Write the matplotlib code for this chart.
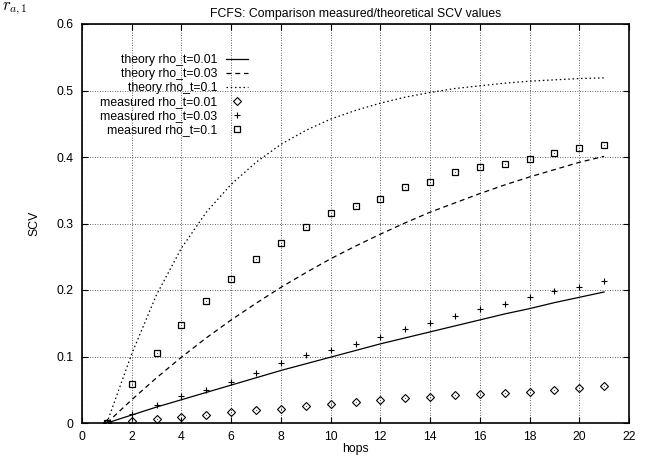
import matplotlib
matplotlib.use("Agg")
import matplotlib.pyplot as plt

# hop counts and SCV values
hops = list(range(1, 22))

theory_001 = [0.0, 0.012, 0.024, 0.035, 0.046, 0.057, 0.068, 0.079, 0.089, 0.099,
              0.109, 0.119, 0.128, 0.137, 0.146, 0.155, 0.164, 0.172, 0.181, 0.189, 0.197]
theory_003 = [0.0, 0.035, 0.068, 0.099, 0.128, 0.155, 0.180, 0.204, 0.226, 0.247,
              0.266, 0.284, 0.301, 0.317, 0.331, 0.345, 0.358, 0.370, 0.381, 0.392, 0.401]
theory_01 = [0.0, 0.104, 0.193, 0.263, 0.317, 0.359, 0.392, 0.419, 0.440, 0.457,
             0.470, 0.481, 0.490, 0.497, 0.503, 0.507, 0.511, 0.514, 0.516, 0.518, 0.519]

measured_001 = [0.0, 0.003, 0.006, 0.009, 0.012, 0.016, 0.019, 0.021, 0.025, 0.029,
                0.031, 0.034, 0.037, 0.039, 0.042, 0.043, 0.045, 0.047, 0.050, 0.053, 0.056]
measured_003 = [0.0, 0.013, 0.027, 0.040, 0.050, 0.062, 0.075, 0.090, 0.102, 0.110,
                0.119, 0.130, 0.141, 0.151, 0.161, 0.171, 0.179, 0.189, 0.198, 0.205, 0.214]
measured_01 = [0.0, 0.058, 0.106, 0.147, 0.183, 0.216, 0.246, 0.271, 0.295, 0.316,
               0.327, 0.337, 0.355, 0.363, 0.377, 0.385, 0.390, 0.397, 0.406, 0.413, 0.418]

labels = ["theory rho_t=0.01", "theory rho_t=0.03", "theory rho_t=0.1",
          "measured rho_t=0.01", "measured rho_t=0.03", "measured rho_t=0.1"]

x_ticks = list(range(0, 23, 2))
y_ticks = [0.0, 0.1, 0.2, 0.3, 0.4, 0.5, 0.6]
y_tick_labels = ["0", "0.1", "0.2", "0.3", "0.4", "0.5", "0.6"]

plt.rcParams["font.family"] = ["Liberation Sans", "DejaVu Sans"]
plt.rcParams["mathtext.fontset"] = "cm"
FS = 8.8

fig = plt.figure(figsize=(6.56, 4.58), dpi=100)
ax = fig.add_axes([82 / 656, 35 / 458, 547 / 656, 399 / 458])

lw = 0.9
ax.plot(hops, theory_001, color="black", lw=lw, ls="-", label=labels[0], zorder=3)
ax.plot(hops, theory_003, color="black", lw=lw, ls=(0, (4, 3)), label=labels[1], zorder=3)
ax.plot(hops, theory_01, color="black", lw=lw, ls=(0, (1.2, 2.2)), label=labels[2], zorder=3)

ax.plot(hops, measured_001, ls="none", marker="D", ms=3.6, mfc="none", mec="black",
        mew=0.8, label=labels[3], zorder=4)
ax.plot(hops, measured_003, ls="none", marker="+", ms=5.0, mec="black",
        mew=0.8, label=labels[4], zorder=4)
ax.plot(hops, measured_01, ls="none", marker="s", ms=4.6, mfc="none", mec="black",
        mew=0.9, label=labels[5], zorder=4)
# centre dots inside the open point symbols
for series in (measured_001, measured_01):
    ax.plot(hops, series, ls="none", marker="o", ms=0.8, mfc="#444444", mec="none", zorder=4)

ax.set_xlim(0, 22)
ax.set_ylim(0, 0.6)
ax.set_xticks(x_ticks)
ax.set_yticks(y_ticks)
ax.set_yticklabels(y_tick_labels)

ax.grid(True, color="#333333", ls=(0, (1, 2)), lw=0.6)
ax.set_axisbelow(True)
ax.tick_params(direction="in", length=4, width=0.8, top=True, right=True,
               labelsize=FS, pad=6)
for sp in ax.spines.values():
    sp.set_linewidth(1.2)

ax.set_title("FCFS: Comparison measured/theoretical SCV values", fontsize=FS, pad=5)
ax.set_xlabel("hops", fontsize=FS, labelpad=0)
ax.set_ylabel("SCV", fontsize=FS, labelpad=12)

leg = ax.legend(loc="upper right", bbox_to_anchor=(248 / 656, (458 - 54) / 458),
                bbox_transform=fig.transFigure, frameon=False, markerfirst=False,
                fontsize=FS, handlelength=1.8, handletextpad=0.7, labelspacing=0.17,
                borderpad=0, borderaxespad=0)

fig.text(2 / 656, 1.0 - 1 / 458, r"$r_{a,1}$", fontsize=12, ha="left", va="top")

fig.savefig("out.png", dpi=100)
